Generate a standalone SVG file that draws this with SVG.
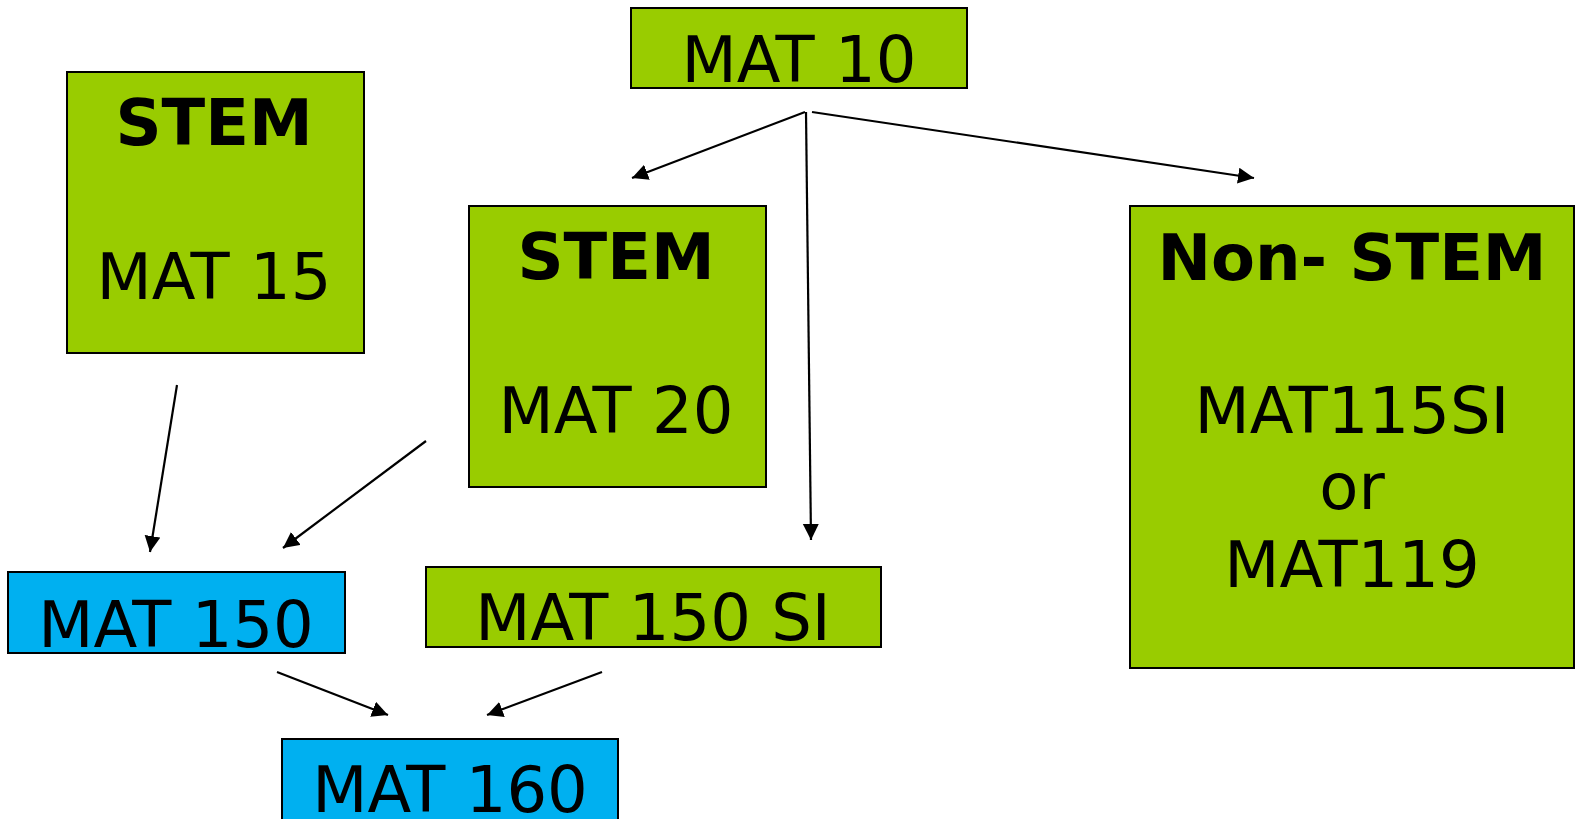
<svg xmlns="http://www.w3.org/2000/svg" width="1575" height="819" viewBox="0 0 1575 819">
<style>
.g{fill:#99CC00;stroke:#000;stroke-width:2}
.b{fill:#00B0F0;stroke:#000;stroke-width:2}
text{font-family:"DejaVu Sans","Verdana",sans-serif;font-size:64px;fill:#000;text-anchor:middle}
.bold{font-weight:bold}
.c{stroke:#000;stroke-width:2.2;fill:none;marker-end:url(#ah)}
</style>
<defs>
<marker id="ah" markerUnits="userSpaceOnUse" markerWidth="17" markerHeight="17" refX="16" refY="8" orient="auto">
<path d="M0,0 L16,8 L0,16 z" fill="#000"/>
</marker>
</defs>
<g id="mat10"><rect class="g" x="631" y="8" width="336" height="80"/><text x="799" y="82">MAT 10</text></g>
<g id="stem15"><rect class="g" x="67" y="72" width="297" height="281"/><text class="bold" x="214" y="145">STEM</text><text x="214" y="299">MAT 15</text></g>
<g id="stem20"><rect class="g" x="469" y="206" width="297" height="281"/><text class="bold" x="616" y="279">STEM</text><text x="616" y="433">MAT 20</text></g>
<g id="nonstem"><rect class="g" x="1130" y="206" width="444" height="462"/><text class="bold" x="1352" y="280">Non- STEM</text><text x="1352" y="433">MAT115SI</text><text x="1352" y="509">or</text><text x="1352" y="587">MAT119</text></g>
<g id="mat150"><rect class="b" x="8" y="572" width="337" height="81"/><text x="176" y="647">MAT 150</text></g>
<g id="mat150si"><rect class="g" x="426" y="567" width="455" height="80"/><text x="653" y="640">MAT 150 SI</text></g>
<g id="mat160"><rect class="b" x="282" y="739" width="336" height="81"/><text x="450" y="812">MAT 160</text></g>
<g id="connectors">
<line class="c" x1="805" y1="112" x2="632" y2="178"/>
<line class="c" x1="806" y1="112" x2="811" y2="540"/>
<line class="c" x1="812" y1="112" x2="1254" y2="178"/>
<line class="c" x1="177" y1="385" x2="150" y2="552"/>
<line class="c" x1="426" y1="441" x2="283" y2="548"/>
<line class="c" x1="277" y1="672" x2="388" y2="715"/>
<line class="c" x1="602" y1="672" x2="487" y2="715"/>
</g>
</svg>
